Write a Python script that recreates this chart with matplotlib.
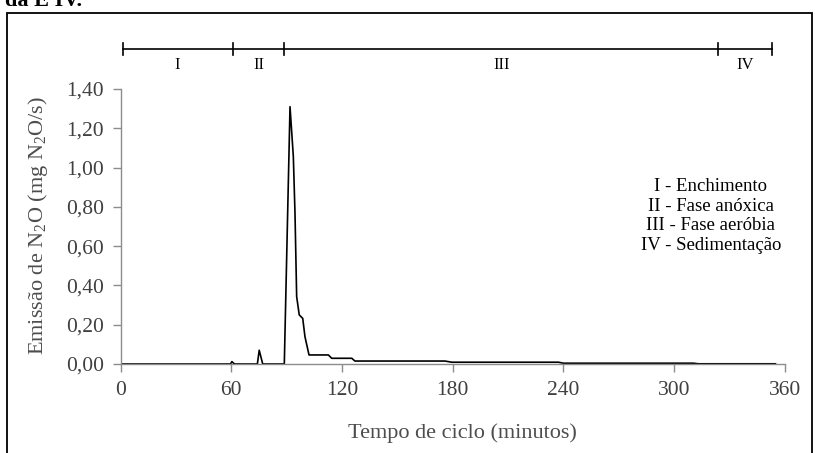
import matplotlib
matplotlib.use("Agg")
import matplotlib.pyplot as plt
import matplotlib.transforms as mtransforms
from matplotlib.patches import Rectangle

plt.rcParams['font.family'] = ['Liberation Serif', 'DejaVu Serif']
plt.rcParams['mathtext.fontset'] = 'custom'
plt.rcParams['mathtext.rm'] = 'Liberation Serif'
plt.rcParams['mathtext.default'] = 'regular'

# ---- data ----
time_min = [0, 59.5, 60.3, 61.3, 62, 74.1, 75.1, 77.0, 88.7, 91.8, 93.6, 94.5,
            95.4, 96.8, 98.7, 99.9, 102.1, 112.6, 114.4, 125.3, 127.0, 175.8,
            179.5, 237.3, 240.0, 310.5, 313.2, 355.0]
emission = [0, 0, 0.012, 0.003, 0, 0, 0.07, 0, 0, 1.31, 1.056, 0.767,
            0.343, 0.25, 0.232, 0.139, 0.046, 0.046, 0.029, 0.029, 0.015, 0.015,
            0.009, 0.009, 0.004, 0.004, 0.001, 0.001]

x_ticks = [0, 60, 120, 180, 240, 300, 360]
y_ticks = [0.0, 0.2, 0.4, 0.6, 0.8, 1.0, 1.2, 1.4]
y_tick_labels = ['0,00', '0,20', '0,40', '0,60', '0,80', '1,00', '1,20', '1,40']

phase_bounds = [1, 60.7, 88.7, 324, 353.3]
phase_names = ['I', 'II', 'III', 'IV']
legend_lines = ['I - Enchimento', 'II - Fase anóxica', 'III - Fase aeróbia', 'IV - Sedimentação']

# ---- figure ----
fig = plt.figure(figsize=(8.15, 4.53), dpi=100)
ax = fig.add_axes([0.1481, 0.1965, 0.8147, 0.6070])

ax.plot(time_min, emission, color='black', lw=1.2)

ax.set_xlim(0, 360)
ax.set_ylim(0, 1.4)
ax.set_xticks(x_ticks)
ax.set_yticks(y_ticks)
ax.set_yticklabels(y_tick_labels)

grey = '#8c8c8c'
for s in ['top', 'right']:
    ax.spines[s].set_visible(False)
for s in ['left', 'bottom']:
    ax.spines[s].set_color(grey)
    ax.spines[s].set_linewidth(1.0)
ax.tick_params(axis='both', direction='out', length=6, width=1, color=grey,
               labelsize=15.5, labelcolor='#404040', pad=6)

ax.set_xlabel('Tempo de ciclo (minutos)', fontsize=16, color='#4d4d4d')
ax.xaxis.set_label_coords(0.514, -0.251)
ax.xaxis.label.set_va('center')
ax.set_ylabel(r'Emissão de N$_2$O (mg N$_2$O/s)', fontsize=16, color='#4d4d4d')
ax.yaxis.set_label_coords(-0.125, 0.505)
ax.yaxis.label.set_va('center')

# phase bar above the axes
trans = mtransforms.blended_transform_factory(ax.transData, ax.transAxes)
bar_y = 1.1455
ax.plot([phase_bounds[0], phase_bounds[-1]], [bar_y, bar_y], color='black',
        lw=1.2, transform=trans, clip_on=False)
for b in phase_bounds:
    ax.plot([b, b], [bar_y - 0.022, bar_y + 0.022], color='black', lw=1.2,
            transform=trans, clip_on=False)
for i, name in enumerate(phase_names):
    mid = (phase_bounds[i] + phase_bounds[i + 1]) / 2
    ax.text(mid, 1.087, name, transform=trans, ha='center', va='center',
            fontsize=12, color='black')

ax.text(320, 0.754, '\n'.join(legend_lines), ha='center', va='center',
        multialignment='center', fontsize=13.5, color='black', linespacing=1.2)

# outer frame and cropped caption
fig.patches.append(Rectangle((0.009, -0.02), 0.987, 0.991, transform=fig.transFigure,
                             fill=False, edgecolor='black', lw=1.3))
fig.text(0.006, 0.987, 'da E IV.', fontsize=16, fontweight='bold', ha='left',
         va='baseline', color='black')

fig.savefig('out.png', dpi=100)
